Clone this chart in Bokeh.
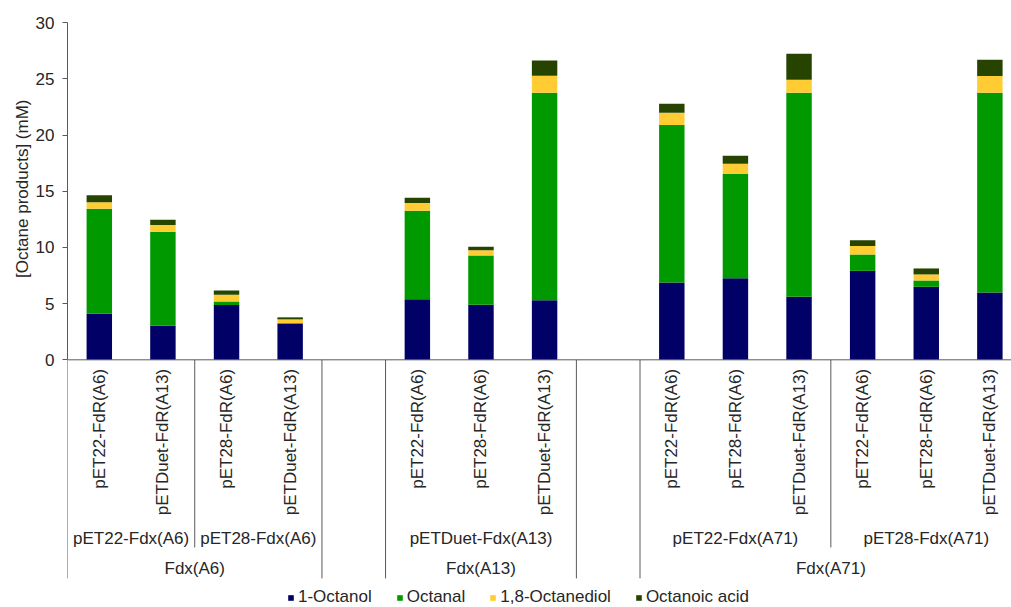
import math
from bokeh.plotting import figure
from bokeh.models import ColumnDataSource, Range1d, Legend, LegendItem, FixedTicker, Title
from bokeh.core.properties import value
from bokeh.embed import file_html
from bokeh.resources import INLINE

# Strain combinations: Fdx variant (outer level) > Fdx plasmid (middle level) > FdR plasmid (bars)
fdx_variants = ["Fdx(A6)", "Fdx(A13)", "Fdx(A71)"]
fdx_plasmids = [
    ["pET22-Fdx(A6)", "pET28-Fdx(A6)"],
    ["pETDuet-Fdx(A13)"],
    ["pET22-Fdx(A71)", "pET28-Fdx(A71)"],
]
fdr_plasmids = [
    [["pET22-FdR(A6)", "pETDuet-FdR(A13)"], ["pET28-FdR(A6)", "pETDuet-FdR(A13)"]],
    [["pET22-FdR(A6)", "pET28-FdR(A6)", "pETDuet-FdR(A13)"]],
    [["pET22-FdR(A6)", "pET28-FdR(A6)", "pETDuet-FdR(A13)"],
     ["pET22-FdR(A6)", "pET28-FdR(A6)", "pETDuet-FdR(A13)"]],
]

# Product titres (mM), one value per strain in the order above
octanol = [4.11, 3.04, 4.88, 3.21, 5.40, 4.90, 5.31, 6.88, 7.27, 5.61, 7.92, 6.50, 5.99]
octanal = [9.34, 8.36, 0.30, 0.06, 7.86, 4.39, 18.45, 14.01, 9.26, 18.16, 1.46, 0.56, 17.78]
octanediol = [0.57, 0.59, 0.62, 0.33, 0.69, 0.47, 1.51, 1.10, 0.92, 1.16, 0.74, 0.54, 1.48]
octanoic_acid = [0.62, 0.48, 0.36, 0.18, 0.47, 0.30, 1.37, 0.80, 0.71, 2.31, 0.53, 0.53, 1.46]

series_names = ["1-Octanol", "Octanal", "1,8-Octanediol", "Octanoic acid"]
series_colors = ["#000066", "#009900", "#FFCC33", "#264400"]

y_ticks = [0, 5, 10, 15, 20, 25, 30]
y_title = "[Octane products] (mM)"

FONT = "Liberation Sans"
TEXT_COLOR = "#262626"
LINE_COLOR = "#5a5a5a"
FS = "17px"

# ---- category slot layout (one slot per bar, one empty slot between Fdx variants)
bar_x, bar_labels = [], []
mid_labels, mid_x = [], []
outer_labels, outer_x = [], []
outer_edges, mid_edges = [], []
slot = 0
for gi, variant in enumerate(fdx_variants):
    g_start = slot
    for pi, plasmid in enumerate(fdx_plasmids[gi]):
        p_start = slot
        for lab in fdr_plasmids[gi][pi]:
            bar_x.append(slot + 0.5)
            bar_labels.append(lab)
            slot += 1
        mid_labels.append(plasmid)
        mid_x.append((p_start + slot) / 2)
        if pi < len(fdx_plasmids[gi]) - 1:
            mid_edges.append(slot)
    outer_labels.append(variant)
    outer_x.append((g_start + slot) / 2)
    outer_edges.extend([g_start, slot])
    if gi < len(fdx_variants) - 1:
        slot += 1  # empty spacer slot
n_slots = slot
outer_edges = [e for e in outer_edges if e < n_slots]

# vertical data extents of the category area (below the value axis)
y_lo, y_hi = -22.04, 31.975
fdr_y = -0.8
mid_y = -15.9
mid_line_end = -16.7
outer_y = -18.6
outer_line_end = -19.45

p = figure(width=1011, height=607, output_backend="svg", toolbar_location=None,
           x_range=Range1d(0, 14.84), y_range=Range1d(y_lo, y_hi),
           x_axis_location=None, min_border_left=67, min_border_right=0,
           min_border_top=0, min_border_bottom=0)
p.outline_line_color = None
p.xgrid.grid_line_color = None
p.ygrid.grid_line_color = None

src = ColumnDataSource(dict(x=bar_x, octanol=octanol, octanal=octanal,
                            octanediol=octanediol, acid=octanoic_acid))
stack_fields = ["octanol", "octanal", "octanediol", "acid"]
renderers = p.vbar_stack(stack_fields, x="x", width=0.4, color=series_colors,
                         line_color=None, source=src)

# value axis (ruled only over 0..30)
ax = p.yaxis[0]
ax.bounds = (y_ticks[0], y_ticks[-1])
ax.ticker = FixedTicker(ticks=y_ticks)
ax.minor_tick_line_color = None
ax.major_tick_in = 0
ax.major_tick_out = 5
ax.axis_line_color = LINE_COLOR
ax.major_tick_line_color = LINE_COLOR
ax.major_label_text_font = FONT
ax.major_label_text_font_size = FS
ax.major_label_text_color = TEXT_COLOR
ax.major_label_standoff = 8

# value-axis title, set beside the ruled 0..30 part of the axis
p.add_layout(Title(text=y_title, align="right", offset=99, vertical_align="middle",
                   text_font=FONT, text_font_size=FS, text_font_style="normal",
                   text_color=TEXT_COLOR, standoff=0), "left")

# category axis baseline and separators
p.segment(x0=[0], y0=[0], x1=[n_slots], y1=[0], line_color=LINE_COLOR, line_width=1)
p.segment(x0=outer_edges, y0=[0] * len(outer_edges), x1=outer_edges,
          y1=[outer_line_end] * len(outer_edges), line_color=LINE_COLOR, line_width=1)
p.segment(x0=mid_edges, y0=[0] * len(mid_edges), x1=mid_edges,
          y1=[mid_line_end] * len(mid_edges), line_color=LINE_COLOR, line_width=1)

# category labels
p.text(x=bar_x, y=[fdr_y] * len(bar_x), text=bar_labels, angle=math.pi / 2,
       text_align="right", text_baseline="middle", text_font=value(FONT),
       text_font_size=FS, text_color=TEXT_COLOR)
p.text(x=mid_x, y=[mid_y] * len(mid_x), text=mid_labels, text_align="center",
       text_baseline="middle", text_font=value(FONT), text_font_size=FS,
       text_color=TEXT_COLOR)
p.text(x=outer_x, y=[outer_y] * len(outer_x), text=outer_labels, text_align="center",
       text_baseline="middle", text_font=value(FONT), text_font_size=FS,
       text_color=TEXT_COLOR)

legend = Legend(items=[LegendItem(label=n, renderers=[r]) for n, r in zip(series_names, renderers)],
                orientation="horizontal", location=(220, 0),
                glyph_width=7, glyph_height=7, label_standoff=4, spacing=24,
                padding=0, margin=0, border_line_color=None, background_fill_alpha=0,
                label_text_font=FONT, label_text_font_size=FS, label_text_color=TEXT_COLOR,
                label_height=20)
p.add_layout(legend)

open("out.html", "w").write(file_html(p, INLINE))
